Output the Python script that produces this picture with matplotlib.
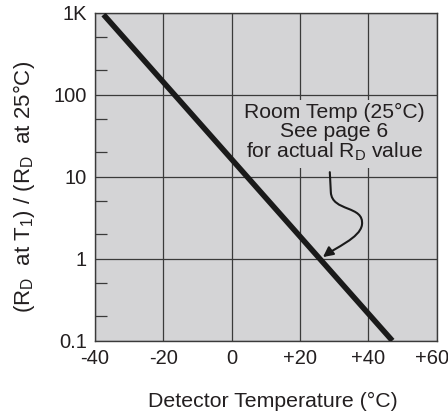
import matplotlib
matplotlib.use("Agg")
import matplotlib.pyplot as plt
import matplotlib.transforms as mtransforms
from matplotlib.path import Path
from matplotlib.patches import FancyArrowPatch
from matplotlib.ticker import FixedLocator, NullFormatter

plt.rcParams['font.family'] = ['Liberation Sans', 'DejaVu Sans']
plt.rcParams['mathtext.fontset'] = 'custom'
plt.rcParams['mathtext.rm'] = 'Liberation Sans'
plt.rcParams['mathtext.it'] = 'Liberation Sans'

# data
temps = [-37.5, 47.0]
ratio = [950.0, 0.1]
x_ticks = [-40, -20, 0, 20, 40, 60]
x_labels = ['-40', '-20', '0', '+20', '+40', '+60']
y_ticks = [0.1, 1, 10, 100, 1000]
y_labels = ['0.1', '1', '10', '100', '1K']
y_minor = [0.2, 0.5, 2, 5, 20, 50, 200, 500]

txt_col = '#231f20'
grid_col = '#3a3a3a'
bg = '#d4d4d6'

fig = plt.figure(figsize=(4.48, 4.12), dpi=100)
ax = fig.add_axes([0.212, 0.173, 0.763, 0.796])
ax.set_facecolor(bg)

ax.plot(temps, ratio, color='#1a1a1a', linewidth=4.0, solid_capstyle='butt', zorder=6)

ax.set_yscale('log')
ax.set_xlim(-40, 60)
ax.set_ylim(0.1, 1000)
ax.set_xticks(x_ticks)
ax.set_xticklabels(x_labels)
ax.set_yticks(y_ticks)
ax.set_yticklabels(y_labels)
ax.yaxis.set_minor_locator(FixedLocator(y_minor))
ax.yaxis.set_minor_formatter(NullFormatter())
ax.grid(True, which='major', color=grid_col, linewidth=0.9, zorder=1)
ax.set_axisbelow(True)
ax.tick_params(axis='both', which='major', length=0, labelsize=14.5,
               labelcolor=txt_col, pad=6)
ax.tick_params(axis='y', which='minor', direction='in', length=8.5,
               width=0.9, color=grid_col, left=True, right=False)
for s in ax.spines.values():
    s.set_color(grid_col)
    s.set_linewidth(1.0)

# last x label sits a bit left so it stays inside the figure
last = ax.get_xticklabels()[-1]
last.set_transform(last.get_transform() +
                   mtransforms.ScaledTranslation(-3.5 / 72, 0, fig.dpi_scale_trans))

ax.set_xlabel('Detector Temperature (°C)', fontsize=15.3, color=txt_col, labelpad=17)
ax.xaxis.label.set_x(0.519)
ax.set_ylabel(r'(R$_\mathrm{D}$  at T$_1$) / (R$_\mathrm{D}$  at 25°C)',
              fontsize=16, color=txt_col, labelpad=12)
ax.yaxis.label.set_y(0.47)

ax.text(0.70, 0.633, 'Room Temp (25°C)\nSee page 6\nfor actual R$_\\mathrm{D}$ value',
        transform=ax.transAxes, ha='center', va='center', fontsize=15.2,
        color=txt_col, linespacing=1.0, zorder=4,
        bbox=dict(facecolor=bg, edgecolor='none', pad=3))

verts = [(0.687, 0.514), (0.690, 0.453), (0.693, 0.392), (0.789, 0.414),
         (0.781, 0.353), (0.775, 0.313), (0.702, 0.283), (0.667, 0.255)]
codes = [Path.MOVETO, Path.LINETO, Path.CURVE4, Path.CURVE4, Path.CURVE4,
         Path.CURVE4, Path.CURVE4, Path.CURVE4]
arrow = FancyArrowPatch(path=Path(verts, codes), transform=ax.transAxes,
                        arrowstyle='-|>,head_length=6,head_width=3',
                        color='#1a1a1a', linewidth=1.5, zorder=5)
ax.add_patch(arrow)

fig.savefig('out.png', dpi=100)
